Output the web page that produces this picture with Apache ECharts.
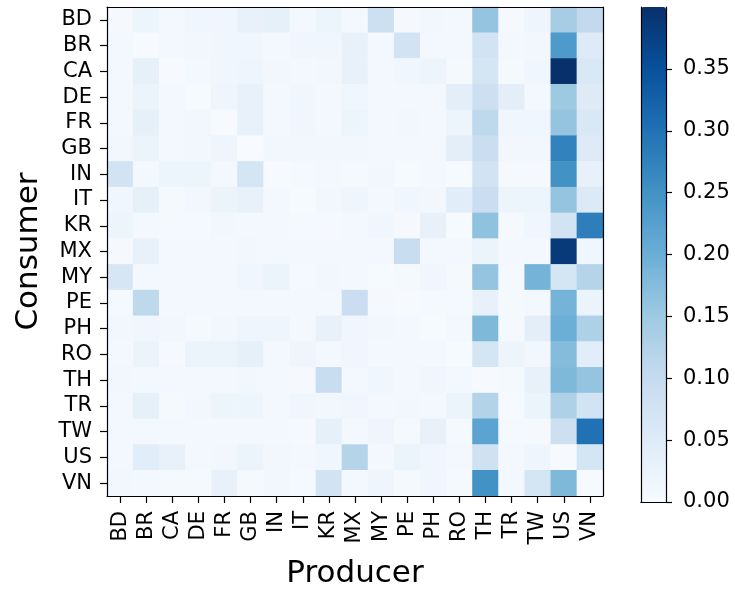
<!DOCTYPE html>
<html lang="en">
<head>
    <meta charset="UTF-8">
    <title>Consumer / Producer heatmap</title>
    <script src="https://cdn.jsdelivr.net/npm/echarts/dist/echarts.min.js"></script>
    <style>
        body { margin: 0; padding: 0; background: #fff; }
        #chart { width: 735px; height: 594px; }
    </style>
</head>
<body>
    <div id="chart"></div>
    <script>
        const countries = ['BD', 'BR', 'CA', 'DE', 'FR', 'GB', 'IN', 'IT', 'KR', 'MX',
                           'MY', 'PE', 'PH', 'RO', 'TH', 'TR', 'TW', 'US', 'VN'];

        // one row per consumer, one column per producer (same order as countries)
        const shares = [
            [0.005, 0.020, 0.010, 0.015, 0.015, 0.030, 0.035, 0.010, 0.020, 0.010, 0.085, 0.005, 0.012, 0.008, 0.160, 0.005, 0.018, 0.140, 0.105],
            [0.010, 0.002, 0.010, 0.012, 0.015, 0.015, 0.010, 0.015, 0.015, 0.030, 0.008, 0.075, 0.010, 0.010, 0.075, 0.008, 0.012, 0.235, 0.050],
            [0.010, 0.035, 0.003, 0.010, 0.015, 0.018, 0.012, 0.008, 0.012, 0.030, 0.008, 0.015, 0.020, 0.006, 0.070, 0.006, 0.015, 0.400, 0.060],
            [0.010, 0.025, 0.008, 0.004, 0.018, 0.030, 0.008, 0.015, 0.010, 0.015, 0.008, 0.010, 0.010, 0.040, 0.085, 0.040, 0.008, 0.150, 0.050],
            [0.010, 0.035, 0.008, 0.012, 0.002, 0.030, 0.010, 0.015, 0.010, 0.020, 0.008, 0.012, 0.008, 0.020, 0.110, 0.015, 0.015, 0.160, 0.060],
            [0.012, 0.025, 0.008, 0.012, 0.018, 0.001, 0.012, 0.012, 0.012, 0.012, 0.010, 0.010, 0.010, 0.040, 0.090, 0.012, 0.012, 0.275, 0.050],
            [0.075, 0.010, 0.020, 0.020, 0.010, 0.070, 0.003, 0.006, 0.008, 0.006, 0.012, 0.004, 0.008, 0.004, 0.075, 0.005, 0.005, 0.250, 0.030],
            [0.015, 0.035, 0.006, 0.012, 0.022, 0.030, 0.010, 0.004, 0.012, 0.018, 0.010, 0.015, 0.012, 0.045, 0.090, 0.020, 0.020, 0.160, 0.055],
            [0.020, 0.008, 0.006, 0.006, 0.012, 0.010, 0.010, 0.006, 0.005, 0.008, 0.015, 0.005, 0.030, 0.004, 0.165, 0.005, 0.015, 0.075, 0.280],
            [0.005, 0.030, 0.010, 0.010, 0.010, 0.012, 0.010, 0.010, 0.010, 0.008, 0.008, 0.095, 0.008, 0.008, 0.025, 0.008, 0.008, 0.385, 0.015],
            [0.065, 0.008, 0.008, 0.008, 0.008, 0.015, 0.025, 0.006, 0.012, 0.008, 0.004, 0.006, 0.015, 0.006, 0.160, 0.006, 0.190, 0.070, 0.120],
            [0.006, 0.110, 0.008, 0.008, 0.010, 0.010, 0.008, 0.008, 0.008, 0.090, 0.005, 0.003, 0.006, 0.006, 0.030, 0.006, 0.008, 0.190, 0.025],
            [0.012, 0.015, 0.012, 0.006, 0.012, 0.018, 0.018, 0.008, 0.030, 0.015, 0.012, 0.008, 0.004, 0.008, 0.180, 0.006, 0.040, 0.200, 0.130],
            [0.008, 0.022, 0.005, 0.025, 0.025, 0.035, 0.008, 0.018, 0.010, 0.015, 0.008, 0.010, 0.010, 0.004, 0.070, 0.020, 0.012, 0.175, 0.045],
            [0.012, 0.008, 0.008, 0.008, 0.008, 0.012, 0.010, 0.005, 0.095, 0.008, 0.015, 0.008, 0.015, 0.008, 0.003, 0.006, 0.030, 0.180, 0.160],
            [0.008, 0.035, 0.006, 0.012, 0.020, 0.020, 0.010, 0.015, 0.012, 0.015, 0.010, 0.012, 0.010, 0.025, 0.125, 0.004, 0.025, 0.130, 0.075],
            [0.008, 0.010, 0.008, 0.008, 0.008, 0.008, 0.008, 0.005, 0.035, 0.008, 0.018, 0.006, 0.030, 0.006, 0.220, 0.006, 0.005, 0.085, 0.300],
            [0.008, 0.045, 0.030, 0.010, 0.012, 0.025, 0.012, 0.010, 0.015, 0.120, 0.010, 0.025, 0.015, 0.010, 0.080, 0.010, 0.018, 0.003, 0.070],
            [0.012, 0.010, 0.006, 0.006, 0.030, 0.006, 0.012, 0.006, 0.075, 0.010, 0.018, 0.006, 0.015, 0.006, 0.250, 0.008, 0.070, 0.180, 0.003]
        ];

        const colorTicks = [0, 0.05, 0.10, 0.15, 0.20, 0.25, 0.30, 0.35];
        const colorMax = 0.40;
        const blues = ['#f7fbff', '#deebf7', '#c6dbef', '#9ecae1', '#6baed6',
                       '#4292c6', '#2171b5', '#08519c', '#08306b'];

        const cells = [];
        shares.forEach((row, y) => row.forEach((v, x) => cells.push([x, y, v])));

        const font = 'DejaVu Sans';
        const frame = { show: true, lineStyle: { color: '#000', width: 1.2 } };
        const tick = { show: true, interval: 0, alignWithLabel: true, length: 7, lineStyle: { color: '#000', width: 1.2 } };

        const chart = echarts.init(document.getElementById('chart'));
        chart.setOption({
            animation: false,
            grid: [
                { left: 107, top: 7, width: 496, height: 495 },
                { left: 641, top: 7, width: 25, height: 495 }
            ],
            xAxis: [
                {
                    type: 'category', data: countries, gridIndex: 0, position: 'bottom', z: 10,
                    axisLine: frame, axisTick: tick, splitLine: { show: false },
                    axisLabel: { interval: 0, rotate: 90, margin: 15, fontFamily: font, fontSize: 21, color: '#000' },
                    name: 'Producer', nameLocation: 'middle', nameGap: 62, nameMoveOverlap: false,
                    nameTextStyle: { fontFamily: font, fontSize: 31, color: '#000' }
                },
                {
                    type: 'category', data: countries, gridIndex: 0, position: 'top', z: 10,
                    axisLine: frame, axisTick: { show: false }, axisLabel: { show: false }
                },
                {
                    type: 'category', data: ['bar'], gridIndex: 1, position: 'bottom', z: 10,
                    axisLine: frame, axisTick: { show: false }, axisLabel: { show: false }
                },
                {
                    type: 'category', data: ['bar'], gridIndex: 1, position: 'top', z: 10,
                    axisLine: frame, axisTick: { show: false }, axisLabel: { show: false }
                }
            ],
            yAxis: [
                {
                    type: 'category', data: countries, gridIndex: 0, inverse: true, position: 'left', z: 10,
                    axisLine: frame, axisTick: tick, splitLine: { show: false },
                    axisLabel: { interval: 0, margin: 15, fontFamily: font, fontSize: 21, color: '#000' },
                    name: 'Consumer', nameLocation: 'middle', nameGap: 63,
                    nameTextStyle: { fontFamily: font, fontSize: 31, color: '#000' }
                },
                {
                    type: 'category', data: countries, gridIndex: 0, inverse: true, position: 'right', z: 10,
                    axisLine: frame, axisTick: { show: false }, axisLabel: { show: false }
                },
                {
                    type: 'value', gridIndex: 1, position: 'left', min: 0, max: colorMax, z: 10,
                    axisLine: frame, axisTick: { show: false }, axisLabel: { show: false },
                    splitLine: { show: false }
                },
                {
                    type: 'value', gridIndex: 1, position: 'right', min: 0, max: colorMax, z: 10,
                    axisLine: frame, splitLine: { show: false },
                    axisTick: { show: true, length: 6, customValues: colorTicks, lineStyle: { color: '#000', width: 1.2 } },
                    axisLabel: {
                        customValues: colorTicks, margin: 17, fontFamily: font, fontSize: 21, color: '#000',
                        formatter: v => v.toFixed(2)
                    }
                }
            ],
            visualMap: {
                type: 'continuous', min: 0, max: colorMax, seriesIndex: 0,
                left: 641, top: 7, itemWidth: 25, itemHeight: 495, padding: 0,
                calculable: false, showLabel: false, text: null, realtime: false,
                inRange: { color: blues }
            },
            series: [{
                type: 'heatmap', xAxisIndex: 0, yAxisIndex: 0, data: cells,
                itemStyle: { borderWidth: 0 }, emphasis: { disabled: true }
            }]
        });
    </script>
</body>
</html>
